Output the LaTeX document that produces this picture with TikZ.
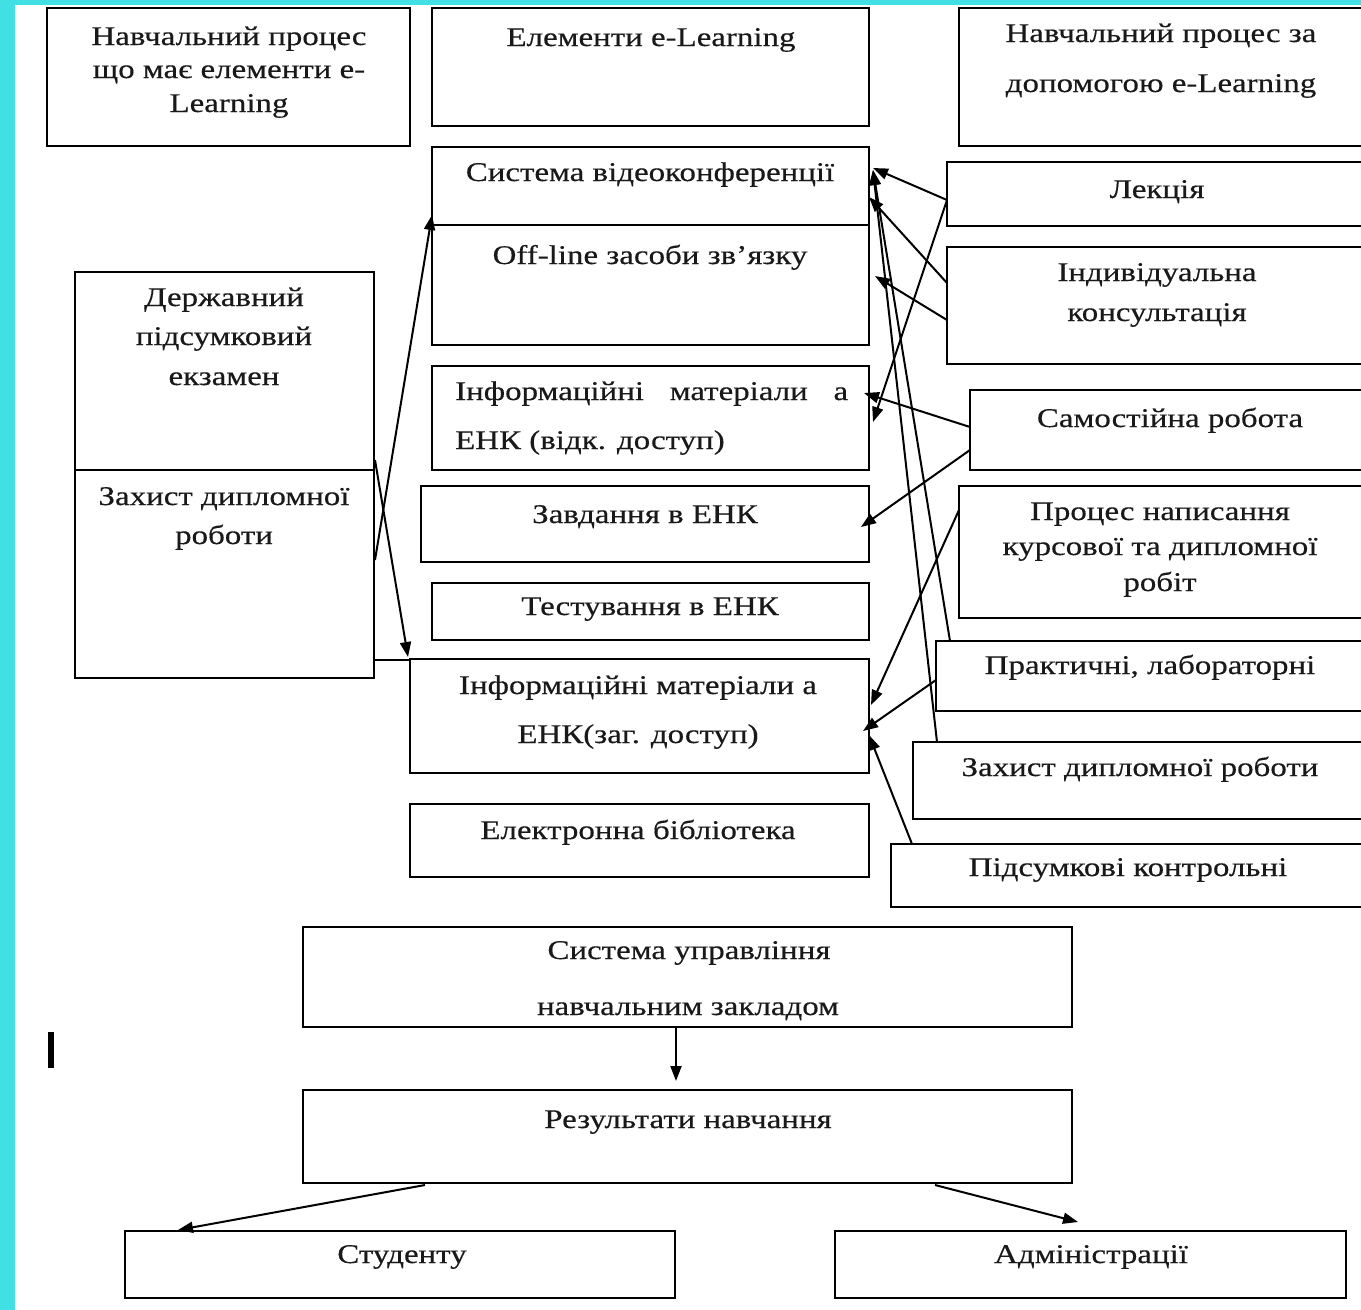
\documentclass[tikz,border=0pt]{standalone}
\usepackage{fontspec}
\usetikzlibrary{arrows.meta,calc}
\newfontfamily\tf{Liberation Serif}[FakeStretch=1.22,FakeBold=0.4]
\definecolor{frame}{RGB}{64,224,228}
\tikzset{
  box/.style={draw=black, line width=2pt, inner sep=0pt, outer sep=0pt, anchor=north west},
  txt/.style={font=\tf\fontsize{27}{30}\selectfont, inner sep=0pt, anchor=base, text=black!90},
  arr/.style={line width=2pt, -{Triangle[length=15pt,width=11pt]}},
  ln/.style={line width=2pt}
}
% \mkbox{name}{x}{y}{width}{height}
\newcommand\mkbox[5]{\node[box, minimum width=#4pt, minimum height=#5pt] (#1) at (#2,#3) {};}
\begin{document}
\begin{tikzpicture}[x=1pt,y=-1pt]
\useasboundingbox (0,0) rectangle (1361,1310);
\fill[white] (0,0) rectangle (1361,1310);
\fill[frame] (0,0) rectangle (15,1310);
\fill[frame] (0,0) rectangle (1361,5);
\begin{scope}
\clip (15,5) rectangle (1361,1310);
% top row
\mkbox{tl}{47}{8}{363}{138}
\mkbox{el}{432}{8}{437}{118}
\mkbox{tr}{959}{8}{416}{138}
% middle column
\mkbox{vid}{432}{147}{437}{78}
\mkbox{off}{432}{225}{437}{120}
\mkbox{inv}{432}{366}{437}{104}
\mkbox{zav}{421}{486}{448}{76}
\mkbox{tes}{432}{583}{437}{57}
\mkbox{inz}{410}{659}{459}{114}
\mkbox{bib}{410}{804}{459}{73}
% left column
\mkbox{der}{75}{272}{299}{198}
\mkbox{zah}{75}{470}{299}{208}
% right column
\mkbox{lek}{947}{162}{428}{64}
\mkbox{ind}{947}{247}{428}{117}
\mkbox{sam}{970}{390}{405}{80}
\mkbox{pro}{959}{486}{416}{132}
\mkbox{pra}{936}{641}{439}{70}
\mkbox{zhr}{913}{742}{462}{77}
\mkbox{pid}{891}{844}{484}{63}
% bottom
\mkbox{sys}{303}{927}{769}{100}
\mkbox{res}{303}{1090}{769}{93}
\mkbox{stu}{125}{1231}{550}{67}
\mkbox{adm}{835}{1231}{511}{67}

% labels
\node[txt] (tl1) at (229,45) {Навчальний процес};
\node[txt] (tl2) at (229,78) {що має елементи e-};
\node[txt] (tl3) at (229,112) {Learning};
\node[txt] (el1) at (651,46) {Елементи e-Learning};
\node[txt] (tr1) at (1161,42) {Навчальний процес за};
\node[txt] (tr2) at (1161,92) {допомогою e-Learning};
\node[txt] (vid1) at (650,181) {Система відеоконференції};
\node[txt] (off1) at (650,264) {Off-line засоби зв’язку};
\node[txt, anchor=base west] (inv1) at (455,400) {\hbox to 393pt{Інформаційні\hfill матеріали\hfill а}};
\node[txt, anchor=base west] (inv2) at (455,449) {ЕНК (відк. доступ)};
\node[txt] (zav1) at (645,523) {Завдання в ЕНК};
\node[txt] (tes1) at (650,615) {Тестування в ЕНК};
\node[txt] (inz1) at (638,694) {Інформаційні матеріали а};
\node[txt] (inz2) at (638,743) {ЕНК(заг. доступ)};
\node[txt] (bib1) at (638,839) {Електронна бібліотека};
\node[txt] (der1) at (224,306) {Державний};
\node[txt] (der2) at (224,345) {підсумковий};
\node[txt] (der3) at (224,385) {екзамен};
\node[txt] (zah1) at (224,505) {Захист дипломної};
\node[txt] (zah2) at (224,544) {роботи};
\node[txt] (lek1) at (1157,198) {Лекція};
\node[txt] (ind1) at (1157,281) {Індивідуальна};
\node[txt] (ind2) at (1157,321) {консультація};
\node[txt] (sam1) at (1170,427) {Самостійна робота};
\node[txt] (pro1) at (1160,520) {Процес написання};
\node[txt] (pro2) at (1160,555) {курсової та дипломної};
\node[txt] (pro3) at (1160,591) {робіт};
\node[txt] (pra1) at (1150,674) {Практичні, лабораторні};
\node[txt] (zhr1) at (1140,776) {Захист дипломної роботи};
\node[txt] (pid1) at (1128,876) {Підсумкові контрольні};
\node[txt] (sys1) at (689,959) {Система управління};
\node[txt] (sys2) at (688,1015) {навчальним закладом};
\node[txt] (res1) at (688,1128) {Результати навчання};
\node[txt] (stu1) at (402,1263) {Студенту};
\node[txt] (adm1) at (1091,1263) {Адміністрації};

% text cursor mark
\fill[black] (48,1032) rectangle (54,1068);

% connectors, right column to middle column
\draw[arr] ($(lek.north west)+(0,38)$) -- ($(vid.north east)+(4,21)$);
\draw[arr] ($(lek.north west)+(0,38)$) -- ($(inv.north east)+(4,56)$);
\draw[arr] ($(ind.north west)+(0,36)$) -- ($(vid.north east)+(0,50)$);
\draw[arr] ($(ind.north west)+(0,73)$) -- ($(off.north east)+(6,51)$);
\draw[arr] ($(sam.north west)+(0,37)$) -- ($(inv.north east)+(-5,27)$);
\draw[arr] ($(sam.north west)+(0,60)$) -- ($(zav.north east)+(-8,41)$);
\draw[arr] ($(pro.north west)+(0,24)$) -- ($(inz.north east)+(2,46)$);
\draw[arr] ($(pra.north west)+(0,39)$) -- ($(inz.north east)+(-6,72)$);
\draw[arr] ($(pid.north west)+(21,0)$) -- ($(inz.north east)+(0,76)$);
\draw[arr] ($(pra.north west)+(14,0)$) -- ($(vid.north east)+(4,23)$);
\draw[arr] ($(zhr.north west)+(24,0)$) -- ($(vid.north east)+(4,23)$);
% left column to middle column
\draw[arr] ($(zah.north east)+(1,90)$) -- ($(vid.south west)+(0,-10)$);
\draw[arr] ($(der.north east)+(1,188)$) -- ($(inz.north west)+(-2,-2)$);
\draw[ln] ($(zah.south east)+(0,-18)$) -- ($(inz.north west)+(0,1)$);
% bottom
\draw[arr] ($(sys.south west)+(373,0)$) -- ($(res.north west)+(373,-9)$);
\draw[arr] ($(res.south west)+(122,2)$) -- ($(stu.north west)+(53,-1)$);
\draw[arr] ($(res.south west)+(632,2)$) -- ($(adm.north west)+(243,-9)$);
\end{scope}
\end{tikzpicture}
\end{document}
